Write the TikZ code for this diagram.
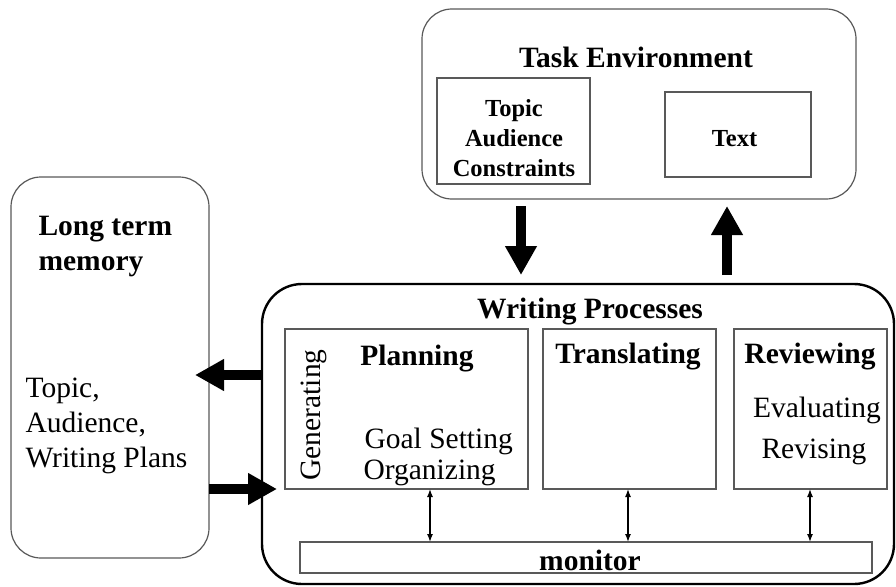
\documentclass[tikz,border=0pt]{standalone}
\usepackage{fontspec}
\setmainfont{Liberation Serif}
\usetikzlibrary{arrows.meta}

\begin{document}
\begin{tikzpicture}[x=1pt, y=-1pt, >={Latex[length=8pt,width=6pt]},
  box/.style={draw=black!65, line width=1.2pt, fill=white, inner sep=0pt, outer sep=0pt, rectangle},
  roundbox/.style={box, rounded corners=30pt},
  mainbox/.style={draw=black, line width=2.4pt, inner sep=0pt, outer sep=0pt, rounded corners=40pt},
  big/.style={font=\fontsize{29.5}{35}\selectfont},
  bigbold/.style={font=\fontsize{29.5}{35}\selectfont\bfseries},
  small/.style={font=\fontsize{24.5}{30}\selectfont\bfseries},
  fat/.style={line width=10pt, -{Triangle[length=29pt,width=30pt]}},
  link/.style={line width=1.3pt, <->}]
\useasboundingbox (0,0) rectangle (896,586);
% boxes
\node[roundbox, minimum width=434pt, minimum height=190pt] (te) at (639,104) {};
\node[box, minimum width=153pt, minimum height=106pt] (topic) at (513.5,131) {};
\node[box, minimum width=146pt, minimum height=85pt] (text) at (738,134.5) {};
\node[roundbox, minimum width=198pt, minimum height=381pt] (ltm) at (110,367.5) {};
\node[mainbox, minimum width=632pt, minimum height=300pt] (wp) at (578,434) {};
\node[box, minimum width=243pt, minimum height=160pt] (plan) at (406.5,409) {};
\node[box, minimum width=173pt, minimum height=160pt] (trans) at (629.5,409) {};
\node[box, minimum width=153pt, minimum height=160pt] (rev) at (810.5,409) {};
\node[box, fill=none, minimum width=572pt, minimum height=31pt] (mon) at (586,557.5) {};
% labels (multi-line: base is the last line)
\node[bigbold, anchor=base] (tetitle) at (636,67) {Task Environment};
\node[small, align=center, anchor=base] (topictext) at (514,176) {Topic\\Audience\\Constraints};
\node[small, anchor=base] (texttext) at (734.5,146) {Text};
\node[bigbold, align=left, anchor=base west] (ltmtitle) at (35,270) {Long term\\memory};
\node[big, align=left, anchor=base west] (ltmtext) at (22,467) {Topic,\\Audience,\\Writing Plans};
\node[bigbold, anchor=base] (wptitle) at (590,318) {Writing Processes};
\node[bigbold, anchor=base] (plantitle) at (417,365) {Planning};
\node[big, rotate=90, anchor=base] (gen) at (320,415) {Generating};
\node[big, anchor=base west] (goal) at (361,448) {Goal Setting};
\node[big, anchor=base west] (org) at (360,479) {Organizing};
\node[bigbold, anchor=base] (transtitle) at (628,363) {Translating};
\node[bigbold, anchor=base] (revtitle) at (810,363) {Reviewing};
\node[big, anchor=base] (eval) at (817,417) {Evaluating};
\node[big, anchor=base] (revis) at (814,458) {Revising};
\node[bigbold, anchor=base] (montext) at (590,570) {monitor};
% helper columns
\coordinate (dn) at (521,0);
\coordinate (up) at (727,0);
\coordinate (back) at (0,375);
% arrows
\draw [fat, shorten <=7pt, shorten >=9pt] (te.south -| dn) -- (wp.north -| dn);
\draw [fat, shorten <=9pt, shorten >=7pt] (wp.north -| up) -- (te.south -| up);
\draw [fat, shorten >=-14pt] (wp.west |- back) -- (ltm.east |- back);
\draw [fat, shorten >=8pt] (ltm.east |- plan.south west) -- (plan.south west);
\draw [link] ([xshift=23.5pt]plan.south) -- ([xshift=23.5pt]plan.south |- mon.north);
\draw [link] ([xshift=-1.5pt]trans.south) -- ([xshift=-1.5pt]trans.south |- mon.north);
\draw [link] ([xshift=-0.5pt]rev.south) -- ([xshift=-0.5pt]rev.south |- mon.north);
\end{tikzpicture}
\end{document}
